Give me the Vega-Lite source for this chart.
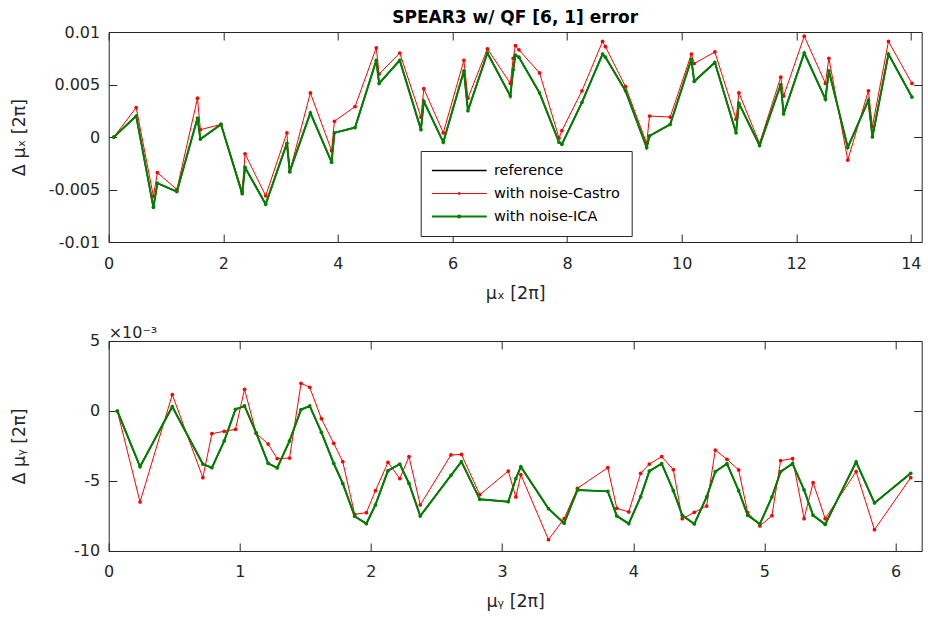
{
  "$schema": "https://vega.github.io/schema/vega-lite/v6.json",
  "background": "white",
  "padding": {"left": 9.7, "top": 8, "right": 6, "bottom": 8},
  "datasets": {
    "top": [
      {"mu":0.09,"ref":0,"castro":0,"ica":0},
      {"mu":0.48,"ref":0.002,"castro":0.0028,"ica":0.002},
      {"mu":0.78,"ref":-0.0067,"castro":-0.00565,"ica":-0.0067},
      {"mu":0.85,"ref":-0.0044,"castro":-0.0034,"ica":-0.0044},
      {"mu":1.19,"ref":-0.0052,"castro":-0.005,"ica":-0.0052},
      {"mu":1.55,"ref":0.0018,"castro":0.0037,"ica":0.0018},
      {"mu":1.6,"ref":-0.0002,"castro":0.0007,"ica":-0.0002},
      {"mu":1.96,"ref":0.0012,"castro":0.0012,"ica":0.0012},
      {"mu":2.33,"ref":-0.0054,"castro":-0.0052,"ica":-0.0054},
      {"mu":2.38,"ref":-0.0029,"castro":-0.0016,"ica":-0.0029},
      {"mu":2.74,"ref":-0.0064,"castro":-0.0056,"ica":-0.0064},
      {"mu":3.11,"ref":-0.0006,"castro":0.0004,"ica":-0.0006},
      {"mu":3.16,"ref":-0.0033,"castro":-0.0033,"ica":-0.0033},
      {"mu":3.52,"ref":0.0023,"castro":0.0042,"ica":0.0023},
      {"mu":3.89,"ref":-0.0024,"castro":-0.0013,"ica":-0.0024},
      {"mu":3.94,"ref":0.0004,"castro":0.0015,"ica":0.0004},
      {"mu":4.3,"ref":0.0009,"castro":0.0029,"ica":0.0009},
      {"mu":4.67,"ref":0.0073,"castro":0.0085,"ica":0.0073},
      {"mu":4.72,"ref":0.0051,"castro":0.006,"ica":0.0051},
      {"mu":5.08,"ref":0.0073,"castro":0.008,"ica":0.0073},
      {"mu":5.45,"ref":0.0007,"castro":0.0019,"ica":0.0007},
      {"mu":5.5,"ref":0.0034,"castro":0.0046,"ica":0.0034},
      {"mu":5.84,"ref":-0.0005,"castro":0.0004,"ica":-0.0005},
      {"mu":6.2,"ref":0.0063,"castro":0.0073,"ica":0.0063},
      {"mu":6.27,"ref":0.0025,"castro":0.0037,"ica":0.0025},
      {"mu":6.61,"ref":0.008,"castro":0.0084,"ica":0.008},
      {"mu":7.01,"ref":0.0039,"castro":0.0051,"ica":0.0039},
      {"mu":7.06,"ref":0.0064,"castro":0.0075,"ica":0.0064},
      {"mu":7.1,"ref":0.0078,"castro":0.0087,"ica":0.0078},
      {"mu":7.16,"ref":0.0076,"castro":0.0083,"ica":0.0076},
      {"mu":7.52,"ref":0.0042,"castro":0.0061,"ica":0.0042},
      {"mu":7.86,"ref":-0.0005,"castro":-0.0001,"ica":-0.0005},
      {"mu":7.91,"ref":-0.0007,"castro":0.0006,"ica":-0.0007},
      {"mu":8.26,"ref":0.0033,"castro":0.0044,"ica":0.0033},
      {"mu":8.62,"ref":0.0079,"castro":0.0091,"ica":0.0079},
      {"mu":8.67,"ref":0.0076,"castro":0.0086,"ica":0.0076},
      {"mu":9.02,"ref":0.0044,"castro":0.0048,"ica":0.0044},
      {"mu":9.39,"ref":-0.001,"castro":-0.0006,"ica":-0.001},
      {"mu":9.44,"ref":0.0001,"castro":0.002,"ica":0.0001},
      {"mu":9.8,"ref":0.0012,"castro":0.0019,"ica":0.0012},
      {"mu":10.17,"ref":0.0074,"castro":0.0079,"ica":0.0074},
      {"mu":10.22,"ref":0.0053,"castro":0.007,"ica":0.0053},
      {"mu":10.58,"ref":0.0071,"castro":0.0081,"ica":0.0071},
      {"mu":10.95,"ref":0.0004,"castro":0.0017,"ica":0.0004},
      {"mu":11.0,"ref":0.0032,"castro":0.0042,"ica":0.0032},
      {"mu":11.36,"ref":-0.0008,"castro":-0.0006,"ica":-0.0008},
      {"mu":11.73,"ref":0.005,"castro":0.0057,"ica":0.005},
      {"mu":11.78,"ref":0.0022,"castro":0.0039,"ica":0.0022},
      {"mu":12.14,"ref":0.008,"castro":0.0096,"ica":0.008},
      {"mu":12.51,"ref":0.0036,"castro":0.0051,"ica":0.0036},
      {"mu":12.57,"ref":0.0063,"castro":0.0075,"ica":0.0063},
      {"mu":12.9,"ref":-0.001,"castro":-0.0022,"ica":-0.001},
      {"mu":13.26,"ref":0.0035,"castro":0.0044,"ica":0.0035},
      {"mu":13.33,"ref":0.0,"castro":0.001,"ica":0.0},
      {"mu":13.61,"ref":0.0079,"castro":0.0091,"ica":0.0079},
      {"mu":14.02,"ref":0.0038,"castro":0.0051,"ica":0.0038}
    ],
    "bottom": [
      {"mu":0.066,"ref":0,"castro":0,"ica":0},
      {"mu":0.239,"ref":-0.00398,"castro":-0.0065,"ica":-0.00398},
      {"mu":0.485,"ref":0.00031,"castro":0.00117,"ica":0.00031},
      {"mu":0.718,"ref":-0.00379,"castro":-0.00476,"ica":-0.00379},
      {"mu":0.787,"ref":-0.00405,"castro":-0.00162,"ica":-0.00405},
      {"mu":0.881,"ref":-0.00214,"castro":-0.00145,"ica":-0.00214},
      {"mu":0.967,"ref":0.00012,"castro":-0.00131,"ica":0.00012},
      {"mu":1.036,"ref":0.00036,"castro":0.00155,"ica":0.00036},
      {"mu":1.125,"ref":-0.00157,"castro":-0.0016,"ica":-0.00157},
      {"mu":1.216,"ref":-0.00374,"castro":-0.00236,"ica":-0.00374},
      {"mu":1.285,"ref":-0.00407,"castro":-0.0034,"ica":-0.00407},
      {"mu":1.379,"ref":-0.00214,"castro":-0.00336,"ica":-0.00214},
      {"mu":1.467,"ref":0.0001,"castro":0.00198,"ica":0.0001},
      {"mu":1.533,"ref":0.00036,"castro":0.00169,"ica":0.00036},
      {"mu":1.622,"ref":-0.00152,"castro":-0.00055,"ica":-0.00152},
      {"mu":1.716,"ref":-0.00374,"castro":-0.00231,"ica":-0.00374},
      {"mu":1.785,"ref":-0.00517,"castro":-0.00362,"ica":-0.00517},
      {"mu":1.876,"ref":-0.00752,"castro":-0.00738,"ica":-0.00752},
      {"mu":1.965,"ref":-0.00805,"castro":-0.00726,"ica":-0.00805},
      {"mu":2.034,"ref":-0.00671,"castro":-0.00569,"ica":-0.00671},
      {"mu":2.13,"ref":-0.00426,"castro":-0.00367,"ica":-0.00426},
      {"mu":2.22,"ref":-0.00379,"castro":-0.00483,"ica":-0.00379},
      {"mu":2.29,"ref":-0.00517,"castro":-0.00326,"ica":-0.00517},
      {"mu":2.376,"ref":-0.0075,"castro":-0.00671,"ica":-0.0075},
      {"mu":2.61,"ref":-0.0046,"castro":-0.00314,"ica":-0.0046},
      {"mu":2.69,"ref":-0.00362,"castro":-0.0031,"ica":-0.00362},
      {"mu":2.83,"ref":-0.00631,"castro":-0.00598,"ica":-0.00631},
      {"mu":3.047,"ref":-0.00648,"castro":-0.00429,"ica":-0.00648},
      {"mu":3.105,"ref":-0.00483,"castro":-0.00614,"ica":-0.00483},
      {"mu":3.143,"ref":-0.00398,"castro":-0.00455,"ica":-0.00398},
      {"mu":3.354,"ref":-0.00698,"castro":-0.00919,"ica":-0.00698},
      {"mu":3.473,"ref":-0.00802,"castro":-0.00769,"ica":-0.00802},
      {"mu":3.575,"ref":-0.00564,"castro":-0.00552,"ica":-0.00564},
      {"mu":3.806,"ref":-0.00574,"castro":-0.00405,"ica":-0.00574},
      {"mu":3.875,"ref":-0.0075,"castro":-0.00695,"ica":-0.0075},
      {"mu":3.966,"ref":-0.00805,"castro":-0.00721,"ica":-0.00805},
      {"mu":4.057,"ref":-0.00612,"castro":-0.00445,"ica":-0.00612},
      {"mu":4.123,"ref":-0.00429,"castro":-0.00379,"ica":-0.00429},
      {"mu":4.217,"ref":-0.00376,"castro":-0.00326,"ica":-0.00376},
      {"mu":4.306,"ref":-0.00569,"castro":-0.00419,"ica":-0.00569},
      {"mu":4.374,"ref":-0.00745,"castro":-0.00769,"ica":-0.00745},
      {"mu":4.466,"ref":-0.00807,"castro":-0.00724,"ica":-0.00807},
      {"mu":4.56,"ref":-0.00614,"castro":-0.00679,"ica":-0.00614},
      {"mu":4.626,"ref":-0.00433,"castro":-0.00279,"ica":-0.00433},
      {"mu":4.715,"ref":-0.00376,"castro":-0.00345,"ica":-0.00376},
      {"mu":4.804,"ref":-0.00569,"castro":-0.00421,"ica":-0.00569},
      {"mu":4.873,"ref":-0.00745,"castro":-0.00726,"ica":-0.00745},
      {"mu":4.966,"ref":-0.00807,"castro":-0.00821,"ica":-0.00807},
      {"mu":5.058,"ref":-0.00614,"castro":-0.00748,"ica":-0.00614},
      {"mu":5.124,"ref":-0.00433,"castro":-0.00355,"ica":-0.00433},
      {"mu":5.215,"ref":-0.00376,"castro":-0.0034,"ica":-0.00376},
      {"mu":5.303,"ref":-0.00564,"castro":-0.00769,"ica":-0.00564},
      {"mu":5.372,"ref":-0.00745,"castro":-0.00512,"ica":-0.00745},
      {"mu":5.464,"ref":-0.0081,"castro":-0.00769,"ica":-0.0081},
      {"mu":5.7,"ref":-0.00364,"castro":-0.00433,"ica":-0.00364},
      {"mu":5.84,"ref":-0.00657,"castro":-0.00848,"ica":-0.00657},
      {"mu":6.116,"ref":-0.00445,"castro":-0.00476,"ica":-0.00445}
    ]
  },
  "config": {
    "font": "DejaVu Sans",
    "view": {"stroke": "#262626", "strokeWidth": 1},
    "axis": {
      "domain": false, "grid": false, "tickColor": "#262626", "tickSize": 8, "tickWidth": 1, "offset": -8, "zindex": 1, "minExtent": 0,
      "labelColor": "#262626", "labelFont": "DejaVu Sans", "labelFontSize": 16, "labelFlush": false, "labelOverlap": false,
      "titleFont": "DejaVu Sans", "titleFontSize": 17.5, "titleFontWeight": "normal", "titleColor": "#262626"
    }
  },
  "bounds": "flush",
  "spacing": 99,
  "resolve": {"scale": {"x": "independent", "y": "independent", "color": "independent"}},
  "vconcat": [
    {
      "width": 813, "height": 210,
      "data": {"name": "top"},
      "transform": [{"fold": ["ref", "castro", "ica"], "as": ["series", "d"]}],
      "title": {"text": "SPEAR3 w/ QF [6, 1] error", "fontSize": 17, "fontWeight": "bold", "font": "DejaVu Sans", "color": "#000000", "anchor": "middle", "frame": "group", "baseline": "alphabetic", "offset": -16},
      "layer": [
        {
          "encoding": {
            "x": {"field": "mu", "type": "quantitative", "scale": {"domain": [0, 14.19], "nice": false, "zero": false},
                  "axis": {"values": [0, 2, 4, 6, 8, 10, 12, 14], "labelPadding": 13, "title": "μₓ [2π]", "titleX": 406.5, "titleY": 64, "titleBaseline": "alphabetic"}},
            "y": {"field": "d", "type": "quantitative", "scale": {"domain": [-0.01, 0.01], "nice": false, "zero": false},
                  "axis": {"values": [-0.01, -0.005, 0, 0.005, 0.01], "labelExpr": "'' + datum.value", "labelPadding": 9, "title": "Δ μₓ [2π]", "titleX": -92, "titleY": 105, "titleAngle": -90, "titleBaseline": "alphabetic", "titleAlign": "center"}},
            "color": {"field": "series", "type": "nominal", "scale": {"domain": ["ref", "castro", "ica"], "range": ["#000000", "#ff0000", "#008000"]},
                      "legend": {"orient": "none", "legendX": 312, "legendY": 119, "title": null, "direction": "vertical",
                                 "strokeColor": "#262626", "fillColor": "#ffffff", "padding": 11, "cornerRadius": 0,
                                 "labelFontSize": 14.5, "labelFont": "DejaVu Sans", "labelColor": "#000000", "labelLimit": 400,
                                 "labelExpr": "datum.value == 'ref' ? 'reference' : datum.value == 'castro' ? 'with noise-Castro' : 'with noise-ICA'",
                                 "symbolType": "stroke", "symbolSize": 3025, "clipHeight": 17, "rowPadding": 6, "symbolOffset": 20.25, "labelOffset": 27.5,
                                 "encode": {"symbols": {"update": {
                                   "shape": {"signal": "datum.value == 'ref' ? 'M-1,0H1' : 'M-1,0H1M-0.04,0A0.04,0.04,0,1,0,0.04,0A0.04,0.04,0,1,0,-0.04,0'"},
                                   "strokeWidth": {"signal": "datum.value == 'castro' ? 1 : datum.value == 'ref' ? 1.5 : 2"}}}}}}
          },
          "layer": [
            {"transform": [{"filter": "datum.series == 'ref'"}], "mark": {"type": "line", "strokeWidth": 1.5}},
            {"transform": [{"filter": "datum.series == 'castro'"}], "mark": {"type": "line", "strokeWidth": 1, "point": {"filled": true, "size": 14}}},
            {"transform": [{"filter": "datum.series == 'ica'"}], "mark": {"type": "line", "strokeWidth": 2, "point": {"filled": true, "size": 14}}}
          ]
        },
        {
          "transform": [{"filter": "datum.series == 'ica'"}],
          "mark": {"type": "point", "opacity": 0},
          "encoding": {
            "x": {"field": "mu", "type": "quantitative", "scale": {"domain": [0, 14.19], "nice": false, "zero": false},
                  "axis": {"orient": "top", "values": [0, 2, 4, 6, 8, 10, 12, 14], "labels": false, "title": null}},
            "y": {"field": "d", "type": "quantitative", "scale": {"domain": [-0.01, 0.01], "nice": false, "zero": false},
                  "axis": {"orient": "right", "values": [-0.01, -0.005, 0, 0.005, 0.01], "labels": false, "title": null}}
          }
        }
      ],
      "resolve": {"axis": {"x": "independent", "y": "independent"}}
    },
    {
      "width": 813, "height": 210,
      "data": {"name": "bottom"},
      "transform": [{"fold": ["ref", "castro", "ica"], "as": ["series", "d"]}],
      "title": {"text": "×10⁻³", "fontSize": 16, "fontWeight": "normal", "font": "DejaVu Sans", "color": "#262626", "anchor": "start", "frame": "group", "baseline": "alphabetic", "offset": -21},
      "layer": [
        {
          "encoding": {
            "x": {"field": "mu", "type": "quantitative", "scale": {"domain": [0, 6.2], "nice": false, "zero": false},
                  "axis": {"values": [0, 1, 2, 3, 4, 5, 6], "labelPadding": 13, "title": "μᵧ [2π]", "titleX": 406.5, "titleY": 64, "titleBaseline": "alphabetic"}},
            "y": {"field": "d", "type": "quantitative", "scale": {"domain": [-0.01, 0.005], "nice": false, "zero": false},
                  "axis": {"values": [-0.01, -0.005, 0, 0.005], "labelExpr": "'' + round(datum.value * 1000)", "labelPadding": 9, "title": "Δ μᵧ [2π]", "titleX": -92, "titleY": 105, "titleAngle": -90, "titleBaseline": "alphabetic", "titleAlign": "center"}},
            "color": {"field": "series", "type": "nominal", "scale": {"domain": ["ref", "castro", "ica"], "range": ["#000000", "#ff0000", "#008000"]}, "legend": null}
          },
          "layer": [
            {"transform": [{"filter": "datum.series == 'ref'"}], "mark": {"type": "line", "strokeWidth": 1.5}},
            {"transform": [{"filter": "datum.series == 'castro'"}], "mark": {"type": "line", "strokeWidth": 1, "point": {"filled": true, "size": 14}}},
            {"transform": [{"filter": "datum.series == 'ica'"}], "mark": {"type": "line", "strokeWidth": 2, "point": {"filled": true, "size": 14}}}
          ]
        },
        {
          "transform": [{"filter": "datum.series == 'ica'"}],
          "mark": {"type": "point", "opacity": 0},
          "encoding": {
            "x": {"field": "mu", "type": "quantitative", "scale": {"domain": [0, 6.2], "nice": false, "zero": false},
                  "axis": {"orient": "top", "values": [0, 1, 2, 3, 4, 5, 6], "labels": false, "title": null}},
            "y": {"field": "d", "type": "quantitative", "scale": {"domain": [-0.01, 0.005], "nice": false, "zero": false},
                  "axis": {"orient": "right", "values": [-0.01, -0.005, 0, 0.005], "labels": false, "title": null}}
          }
        }
      ],
      "resolve": {"axis": {"x": "independent", "y": "independent"}}
    }
  ]
}
